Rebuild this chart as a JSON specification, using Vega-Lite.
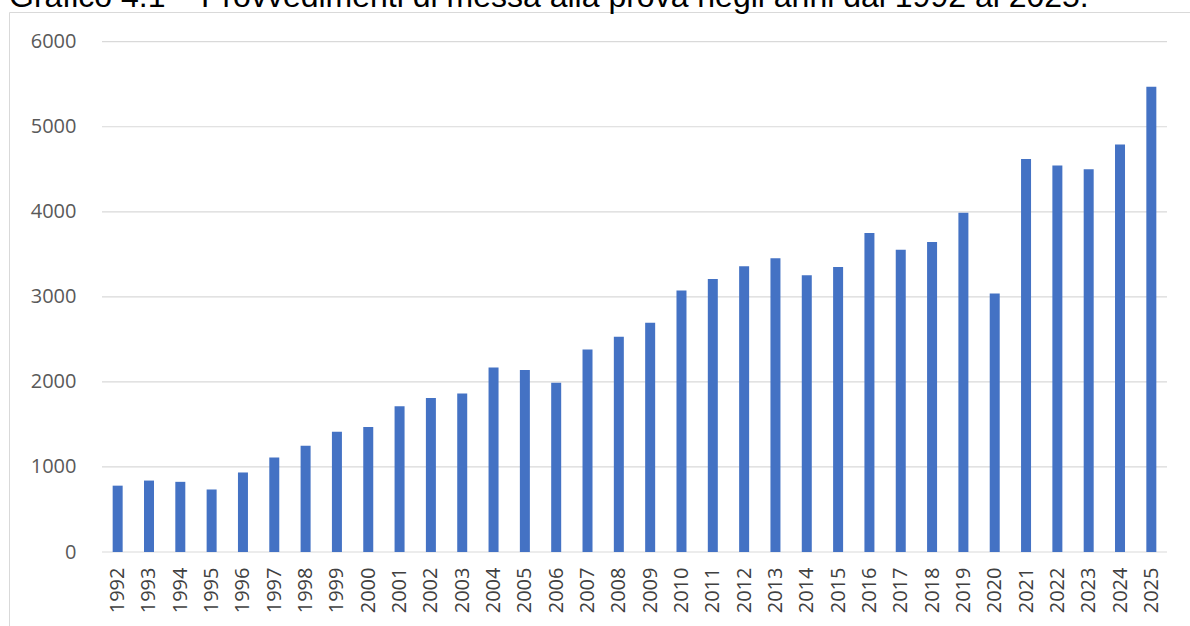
{
  "$schema": "https://vega.github.io/schema/vega-lite/v6.json",
  "autosize": {"type": "none"},
  "padding": {"left": 9, "top": 12, "right": 0, "bottom": 0},
  "width": 1200,
  "height": 640,
  "background": "white",
  "title": {
    "text": "Grafico 4.1 – Provvedimenti di messa alla prova negli anni dal 1992 al 2025.",
    "anchor": "start",
    "frame": "group",
    "font": "Liberation Sans",
    "fontSize": 32,
    "fontWeight": "normal",
    "color": "#000000",
    "baseline": "alphabetic",
    "offset": -27
  },
  "config": {
    "view": {"stroke": "#d9d9d9", "strokeWidth": 1},
    "axis": {
      "labelFont": "Open Sans",
      "labelFontSize": 20,
      "tickSize": 0,
      "ticks": false,
      "domain": false,
      "grid": false,
      "labelOverlap": false,
      "labelFlush": false,
      "title": null
    },
    "axisX": {"labelColor": "#404040", "labelPadding": 15, "labelAngle": -90, "offset": -100},
    "axisY": {"labelColor": "#595959", "labelPadding": 21, "offset": -88}
  },
  "layer": [
    {
      "data": {"values": [{"v": 0}, {"v": 1000}, {"v": 2000}, {"v": 3000}, {"v": 4000}, {"v": 5000}, {"v": 6000}]},
      "mark": {"type": "rule", "color": "#d9d9d9", "strokeWidth": 1.2},
      "encoding": {
        "x": {
          "datum": 1991.5,
          "type": "quantitative",
          "title": null,
          "scale": {"domain": [1991.5, 2025.5], "range": [88, 1163], "nice": false, "zero": false},
          "axis": {
            "values": [1992, 1993, 1994, 1995, 1996, 1997, 1998, 1999, 2000, 2001, 2002, 2003, 2004, 2005, 2006, 2007, 2008, 2009, 2010, 2011, 2012, 2013, 2014, 2015, 2016, 2017, 2018, 2019, 2020, 2021, 2022, 2023, 2024, 2025],
            "format": "d",
            "labelOverlap": false
          }
        },
        "x2": {"datum": 2025.5},
        "y": {
          "field": "v",
          "type": "quantitative",
          "title": null,
          "scale": {"domain": [0, 6000], "range": [540, 29.7], "nice": false},
          "axis": {"values": [0, 1000, 2000, 3000, 4000, 5000, 6000], "format": "d", "labelOverlap": false}
        }
      }
    },
    {
      "data": {"values": [
        {"anno": 1992, "valore": 780},
        {"anno": 1993, "valore": 840},
        {"anno": 1994, "valore": 825},
        {"anno": 1995, "valore": 735},
        {"anno": 1996, "valore": 935},
        {"anno": 1997, "valore": 1110},
        {"anno": 1998, "valore": 1250},
        {"anno": 1999, "valore": 1415},
        {"anno": 2000, "valore": 1470},
        {"anno": 2001, "valore": 1715},
        {"anno": 2002, "valore": 1810},
        {"anno": 2003, "valore": 1865},
        {"anno": 2004, "valore": 2170},
        {"anno": 2005, "valore": 2140},
        {"anno": 2006, "valore": 1990},
        {"anno": 2007, "valore": 2380},
        {"anno": 2008, "valore": 2530},
        {"anno": 2009, "valore": 2695},
        {"anno": 2010, "valore": 3075},
        {"anno": 2011, "valore": 3210},
        {"anno": 2012, "valore": 3360},
        {"anno": 2013, "valore": 3455},
        {"anno": 2014, "valore": 3255},
        {"anno": 2015, "valore": 3350},
        {"anno": 2016, "valore": 3750},
        {"anno": 2017, "valore": 3555},
        {"anno": 2018, "valore": 3645},
        {"anno": 2019, "valore": 3990},
        {"anno": 2020, "valore": 3040},
        {"anno": 2021, "valore": 4620},
        {"anno": 2022, "valore": 4545},
        {"anno": 2023, "valore": 4500},
        {"anno": 2024, "valore": 4790},
        {"anno": 2025, "valore": 5470}
      ]},
      "mark": {"type": "bar", "orient": "vertical", "size": 10, "color": "#4472c4"},
      "encoding": {
        "x": {
          "field": "anno",
          "type": "quantitative",
          "title": null,
          "axis": {
            "values": [1992, 1993, 1994, 1995, 1996, 1997, 1998, 1999, 2000, 2001, 2002, 2003, 2004, 2005, 2006, 2007, 2008, 2009, 2010, 2011, 2012, 2013, 2014, 2015, 2016, 2017, 2018, 2019, 2020, 2021, 2022, 2023, 2024, 2025],
            "format": "d",
            "labelOverlap": false
          }
        },
        "y": {
          "field": "valore",
          "type": "quantitative",
          "title": null,
          "axis": {"values": [0, 1000, 2000, 3000, 4000, 5000, 6000], "format": "d", "labelOverlap": false}
        }
      }
    }
  ]
}
